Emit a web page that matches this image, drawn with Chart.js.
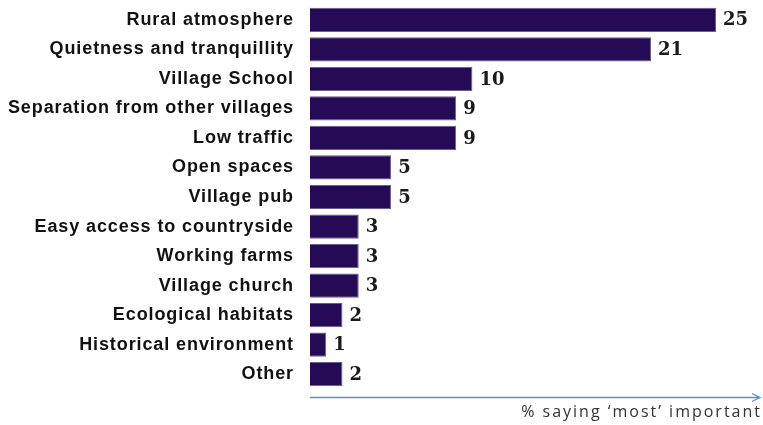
<!DOCTYPE html>
<html>
<head>
<meta charset="utf-8">
<script src="https://cdn.jsdelivr.net/npm/chart.js@4"></script>
<style>
  html, body { margin: 0; padding: 0; background: #fff; }
  #wrap { width: 763px; height: 425px; position: relative; }
</style>
</head>
<body>
<div id="wrap"><canvas id="chart" width="763" height="425"></canvas></div>
<script>
// data
const categories = [
    'Rural atmosphere',
    'Quietness and tranquillity',
    'Village School',
    'Separation from other villages',
    'Low traffic',
    'Open spaces',
    'Village pub',
    'Easy access to countryside',
    'Working farms',
    'Village church',
    'Ecological habitats',
    'Historical environment',
    'Other'
];
const values = [25, 21, 10, 9, 9, 5, 5, 3, 3, 3, 2, 1, 2];
const axisTitle = '% saying \u2018most\u2019 important';

// spaced-out tick labels like the original
const spacing = {
    id: 'spacing',
    beforeDraw(chart) {
        chart.ctx.letterSpacing = '0.9px';
    }
};

// value labels + arrow axis
const extras = {
    id: 'extras',
    afterDatasetsDraw(chart) {
        const ctx = chart.ctx;
        const meta = chart.getDatasetMeta(0);
        ctx.save();
        ctx.letterSpacing = '0px';
        ctx.fillStyle = '#1a1a1a';
        ctx.font = 'bold 18px "DejaVu Serif", "Liberation Serif", serif';
        ctx.textAlign = 'left';
        ctx.textBaseline = 'middle';
        meta.data.forEach((bar, i) => {
            ctx.fillText(String(values[i]), bar.x + 7, bar.y + 1);
        });

        // axis line with arrow
        const area = chart.chartArea;
        const y = area.bottom + 8.5;
        const x0 = area.left;
        const x1 = 760;
        ctx.strokeStyle = '#5b8fcf';
        ctx.lineWidth = 1.3;
        ctx.beginPath();
        ctx.moveTo(x0, y);
        ctx.lineTo(x1, y);
        ctx.moveTo(x1 - 8, y - 4);
        ctx.lineTo(x1, y);
        ctx.lineTo(x1 - 8, y + 4);
        ctx.stroke();

        ctx.letterSpacing = '2px';
        ctx.fillStyle = '#333';
        ctx.font = '16px "Open Sans", sans-serif';
        ctx.textAlign = 'right';
        ctx.textBaseline = 'middle';
        ctx.fillText(axisTitle, x1 + 2, y + 15);
        ctx.restore();
    }
};

new Chart(document.getElementById('chart'), {
    type: 'bar',
    data: {
        labels: categories,
        datasets: [{
            data: values,
            backgroundColor: '#250a55',
            borderColor: '#6b5c92',
            borderWidth: 1,
            categoryPercentage: 0.82,
            barPercentage: 1
        }]
    },
    options: {
        indexAxis: 'y',
        responsive: false,
        animation: false,
        layout: { padding: { top: 5, right: 47, bottom: 36, left: 0 } },
        plugins: {
            legend: { display: false },
            tooltip: { enabled: false }
        },
        scales: {
            x: {
                display: false,
                min: 0,
                max: 25
            },
            y: {
                grid: { display: false },
                border: { display: false },
                afterFit(scale) {
                    scale.width = 310;
                    scale.paddingTop = 0;
                    scale.paddingBottom = 0;
                },
                ticks: {
                    color: '#111',
                    padding: 8,
                    font: { family: '"Liberation Sans", Arial, sans-serif', size: 18, weight: 'bold' }
                }
            }
        }
    },
    plugins: [spacing, extras]
});
</script>
</body>
</html>
